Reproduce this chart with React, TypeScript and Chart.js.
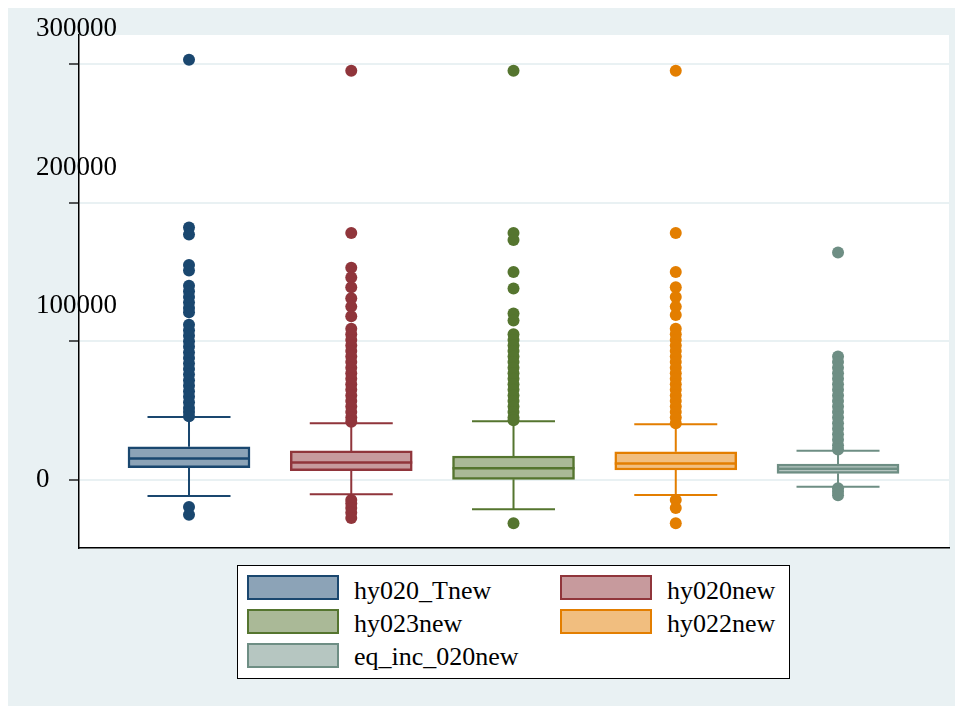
import React, { useEffect, useRef } from 'react';
import { Chart, registerables } from 'chart.js';

Chart.register(...registerables);

// ---------- data ----------
const CATEGORIES = ['hy020_Tnew', 'hy020new', 'hy023new', 'hy022new', 'eq_inc_020new'];
const POSITIONS = [1, 2, 3, 4, 5];

const LOWER_WHISKER = [-11500, -10300, -21100, -10800, -4800];
const Q1 = [8900, 6700, 500, 7200, 4800];
const MEDIAN = [15600, 12700, 8400, 12000, 8100];
const Q3 = [24000, 21000, 17300, 20400, 11500];
const UPPER_WHISKER = [45400, 41000, 42300, 40200, 21100];

const OUTLIERS_HY020_TNEW = [
  303000, 182000, 177000, 155000, 151000, 140000, 136000, 132000, 128000, 124000, 121000,
  112000, 108000, 104000, 100000, 96000, 92000, 88000, 84000, 80000, 76000, 72000, 68000,
  64000, 60000, 56000, 52000, 49000, 46000,
  -19500, -25000,
];
const OUTLIERS_HY020NEW = [
  295000, 178000, 153000, 146000, 139000, 131000, 125000, 118000,
  109000, 105000, 101000, 97000, 93000, 89000, 85000, 81000, 77000, 73000, 69000, 65000,
  61000, 57000, 53000, 49000, 45000, 42000,
  -14400, -17000, -20200, -23500, -27400,
];
const OUTLIERS_HY023NEW = [
  295000, 178000, 173000, 150000, 138000, 120000, 115000,
  105000, 101000, 97000, 93000, 89000, 85000, 81000, 77000, 73000, 69000, 65000, 61000,
  57000, 53000, 49000, 45000, 43000,
  -31200,
];
const OUTLIERS_HY022NEW = [
  295000, 178000, 150000, 139000, 132000, 125000, 119000,
  109000, 105000, 101000, 97000, 93000, 89000, 85000, 81000, 77000, 73000, 69000, 65000,
  61000, 57000, 53000, 49000, 45000, 41000,
  -14400, -20200, -31200,
];
const OUTLIERS_EQ_INC_020NEW = [
  164000,
  89000, 85000, 81000, 77000, 73000, 69000, 65000, 61000, 57000, 53000, 49000, 45000,
  41000, 37000, 33000, 29000, 25000, 22000,
  -6000, -8500, -11000,
];
const OUTLIERS = [
  OUTLIERS_HY020_TNEW,
  OUTLIERS_HY020NEW,
  OUTLIERS_HY023NEW,
  OUTLIERS_HY022NEW,
  OUTLIERS_EQ_INC_020NEW,
];

const Y_TICKS = [0, 100000, 200000, 300000];
const Y_MIN = -49000;
const Y_MAX = 320800;
const X_MIN = 0.322;
const X_MAX = 5.684;

// ---------- styles ----------
const LINE_COLORS = ['#1A476F', '#90353B', '#55752F', '#E37E00', '#6E8E84'];
const FILL_COLORS = ['#8CA3B7', '#C79A9D', '#AAB997', '#F1BE7F', '#B6C6C1'];
const PANEL_BG = '#E9F1F3';
const GRID_COLOR = '#E9F1F3';
const FONT = '"Liberation Serif", "Times New Roman", serif';
const BOX_PX = 122;
const CAP_PX = 83;

const boxPlugin = {
  id: 'boxWhiskers',
  beforeDraw(chart: any) {
    const { ctx, chartArea } = chart;
    ctx.save();
    ctx.fillStyle = '#ffffff';
    ctx.fillRect(chartArea.left, chartArea.top, chartArea.right - chartArea.left, chartArea.bottom - chartArea.top);
    ctx.restore();
  },
  beforeDatasetsDraw(chart: any) {
    const { ctx } = chart;
    const xs = chart.scales.x;
    const ys = chart.scales.y;
    ctx.save();
    ctx.lineWidth = 2;
    ctx.lineCap = 'butt';
    POSITIONS.forEach((p, i) => {
      const px = xs.getPixelForValue(p);
      const yLo = ys.getPixelForValue(LOWER_WHISKER[i]);
      const yQ1 = ys.getPixelForValue(Q1[i]);
      const yQ3 = ys.getPixelForValue(Q3[i]);
      const yHi = ys.getPixelForValue(UPPER_WHISKER[i]);
      ctx.strokeStyle = LINE_COLORS[i];
      ctx.beginPath();
      ctx.moveTo(px, yQ3);
      ctx.lineTo(px, yHi);
      ctx.moveTo(px, yQ1);
      ctx.lineTo(px, yLo);
      ctx.moveTo(px - CAP_PX / 2, yHi);
      ctx.lineTo(px + CAP_PX / 2, yHi);
      ctx.moveTo(px - CAP_PX / 2, yLo);
      ctx.lineTo(px + CAP_PX / 2, yLo);
      ctx.stroke();
    });
    ctx.restore();
  },
  afterDatasetDraw(chart: any, args: any) {
    if (args.meta.type !== 'bar') return;
    const { ctx } = chart;
    const ys = chart.scales.y;
    ctx.save();
    ctx.lineWidth = 2.5;
    args.meta.data.forEach((bar: any, i: number) => {
      const y = ys.getPixelForValue(MEDIAN[i]);
      ctx.strokeStyle = LINE_COLORS[i];
      ctx.beginPath();
      ctx.moveTo(bar.x - bar.width / 2, y);
      ctx.lineTo(bar.x + bar.width / 2, y);
      ctx.stroke();
    });
    ctx.restore();
  },
};

function Legend() {
  return (
    <div
      style={{
        position: 'absolute',
        left: 229,
        top: 557,
        width: 553,
        height: 114,
        boxSizing: 'border-box',
        border: '1px solid #000',
        background: '#fff',
      }}
    >
      {CATEGORIES.map((name, i) => {
        const col = i % 2;
        const row = Math.floor(i / 2);
        return (
          <React.Fragment key={name}>
            <div
              style={{
                position: 'absolute',
                left: col === 0 ? 9 : 322,
                top: 9 + row * 34,
                width: 92,
                height: 25,
                boxSizing: 'border-box',
                border: `2.5px solid ${LINE_COLORS[i]}`,
                background: FILL_COLORS[i],
              }}
            />
            <div
              style={{
                position: 'absolute',
                left: col === 0 ? 116 : 429,
                top: 12 + row * 33,
                font: `26px ${FONT}`,
                lineHeight: '26px',
                color: '#000',
                whiteSpace: 'nowrap',
              }}
            >
              {name}
            </div>
          </React.Fragment>
        );
      })}
    </div>
  );
}

export default function App() {
  const canvasRef = useRef<HTMLCanvasElement | null>(null);

  useEffect(() => {
    const canvas = canvasRef.current;
    if (!canvas) return;

    const scatterSets = OUTLIERS.map((vals, i) => ({
      type: 'scatter' as const,
      label: CATEGORIES[i] + ' outliers',
      data: vals.map((v) => ({ x: POSITIONS[i], y: v })),
      backgroundColor: LINE_COLORS[i],
      borderColor: LINE_COLORS[i],
      borderWidth: 0,
      pointRadius: 6,
      pointHoverRadius: 6,
      order: 0,
    }));

    const boxSet = {
      type: 'bar' as const,
      label: 'boxes',
      data: POSITIONS.map((p, i) => ({ x: p, y: [Q1[i], Q3[i]] })),
      backgroundColor: FILL_COLORS,
      borderColor: LINE_COLORS,
      borderWidth: 2.5,
      borderSkipped: false,
      barThickness: BOX_PX,
      order: 10,
    };

    const chart = new Chart(canvas, {
      type: 'bar',
      data: { datasets: [...scatterSets, boxSet] as any },
      options: {
        animation: false,
        responsive: false,
        devicePixelRatio: 1,
        events: [],
        layout: { padding: { left: 28, right: 14, top: 27, bottom: 158 } },
        plugins: {
          legend: { display: false },
          tooltip: { enabled: false },
          title: { display: false },
        },
        scales: {
          x: {
            type: 'linear',
            offset: false,
            min: X_MIN,
            max: X_MAX,
            grid: { display: true, offset: false, drawOnChartArea: false, drawTicks: false, color: 'rgba(0,0,0,0)' },
            ticks: { display: false },
            border: { display: true, color: '#000', width: 1.5 },
            afterFit: (s: any) => {
              s.height = 0;
              s.paddingLeft = 0;
              s.paddingRight = 0;
            },
          },
          y: {
            type: 'linear',
            position: 'left',
            min: Y_MIN,
            max: Y_MAX,
            afterBuildTicks: (s: any) => {
              s.ticks = Y_TICKS.map((v) => ({ value: v }));
            },
            afterFit: (s: any) => {
              s.width = 43;
              s.paddingTop = 0;
              s.paddingBottom = 0;
            },
            grid: {
              color: GRID_COLOR,
              lineWidth: 2,
              tickColor: '#000',
              tickLength: 10,
              tickWidth: 1.3,
            },
            border: { display: true, color: '#000', width: 1.5 },
            ticks: {
              autoSkip: false,
              mirror: true,
              crossAlign: 'near',
              padding: -43,
              color: '#000',
              font: { family: FONT, size: 27, lineHeight: '70px' } as any,
              callback: (v: any) => (Number(v) === 0 ? '0' : [String(v), '']),
            },
          },
        },
      } as any,
      plugins: [boxPlugin],
    });

    return () => chart.destroy();
  }, []);

  return (
    <div style={{ position: 'relative', width: 955, height: 698, background: PANEL_BG }}>
      <canvas ref={canvasRef} width={955} height={698} style={{ display: 'block', width: 955, height: 698 }} />
      <Legend />
    </div>
  );
}
